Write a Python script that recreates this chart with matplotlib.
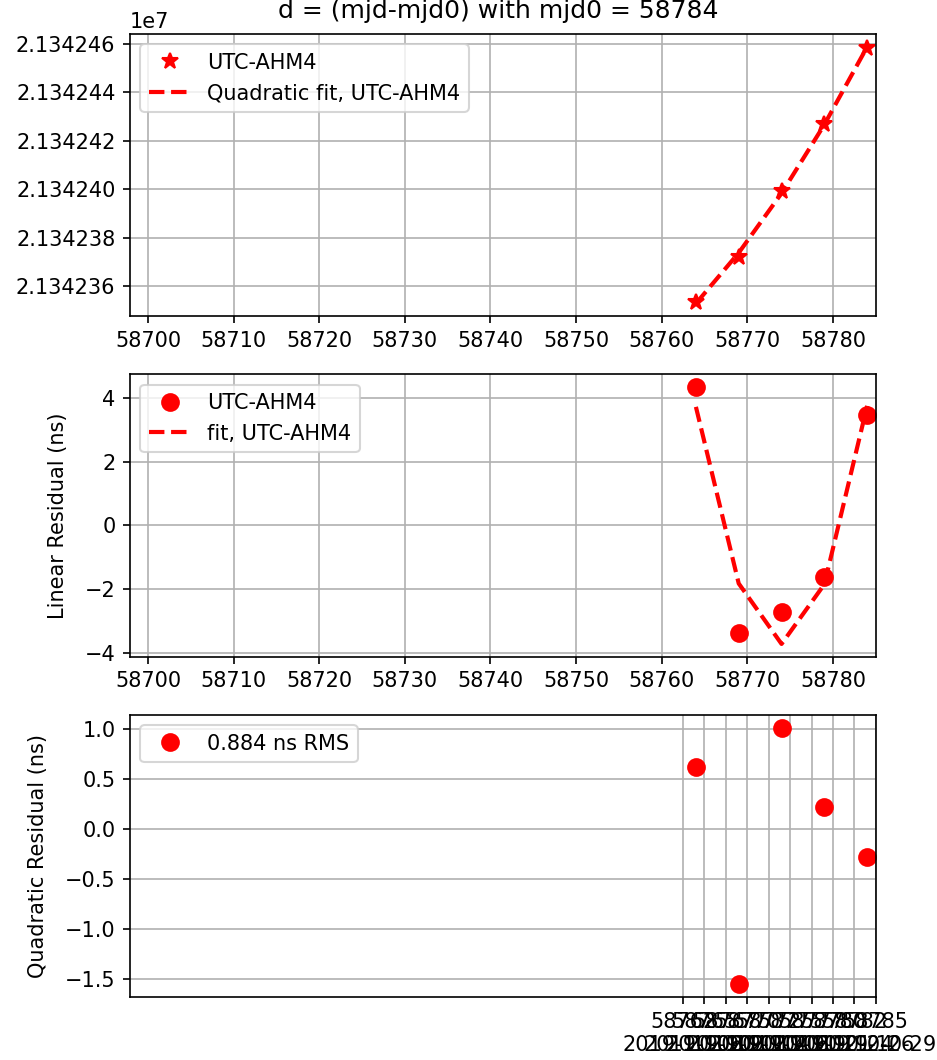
import datetime
import numpy as np
import matplotlib

matplotlib.use("Agg")
import matplotlib.pyplot as plt
from matplotlib.ticker import FuncFormatter

mjd0 = 58784
mjd = [58764, 58769, 58774, 58779, 58784]
utc_ahm4 = [21342353.57, 21342372.27, 21342399.35, 21342426.84, 21342458.35]
lin_resid = [4.33, -3.38, -2.71, -1.63, 3.47]
quad_resid = [0.613, -1.557, 1.009, 0.219, -0.279]
rms_label = "0.884 ns RMS"
date_ticks = [58762.5, 58765.0, 58767.5, 58770.0, 58772.5,
              58775.0, 58777.5, 58780.0, 58782.5, 58785.0]
mjd_range = (58697.9, 58785.0)


def mjd_label(x, pos):
    day = datetime.datetime(1858, 11, 17) + datetime.timedelta(days=x)
    return "%d\n%s" % (int(x), day.strftime("%Y-%m-%d"))


def main():
    y = np.array(utc_ahm4)
    quad_fit = y - np.array(quad_resid)
    lin_fit = np.array(lin_resid) - np.array(quad_resid)

    dpi = 150
    fig, (ax1, ax2, ax3) = plt.subplots(3, 1, figsize=(937 / dpi, 1060 / dpi), dpi=dpi)
    fig.subplots_adjust(left=0.1387, right=0.9346, top=0.9679, bottom=0.0592, hspace=0.206)

    ax1.plot(mjd, y, "r*", ms=8, label="UTC-AHM4")
    ax1.plot(mjd, quad_fit, "r--", lw=2, label="Quadratic fit, UTC-AHM4")
    ax1.ticklabel_format(axis="y", useOffset=False)
    ax1.legend(loc="upper left")
    ax1.grid(True)
    ax1.set_xlim(mjd_range)
    fig.text(498.3 / 937, 1 - 18.3 / 1060, "d = (mjd-mjd0) with mjd0 = %d" % mjd0,
             ha="center", va="baseline", fontsize=12)

    ax2.plot(mjd, lin_resid, "ro", ms=8, label="UTC-AHM4")
    ax2.plot(mjd, lin_fit, "r--", lw=2, label="fit, UTC-AHM4")
    ax2.set_ylabel("Linear Residual (ns)", labelpad=8)
    ax2.legend(loc="upper left")
    ax2.grid(True)
    ax2.set_xlim(mjd_range)

    ax3.plot(mjd, quad_resid, "ro", ms=8, label=rms_label)
    ax3.set_ylabel("Quadratic Residual (ns)", labelpad=8)
    ax3.set_xticks(date_ticks)
    ax3.xaxis.set_major_formatter(FuncFormatter(mjd_label))
    ax3.legend(loc="upper left")
    ax3.grid(True)
    ax3.set_xlim(mjd_range)

    fig.savefig("out.png", dpi=dpi)


if __name__ == "__main__":
    main()
